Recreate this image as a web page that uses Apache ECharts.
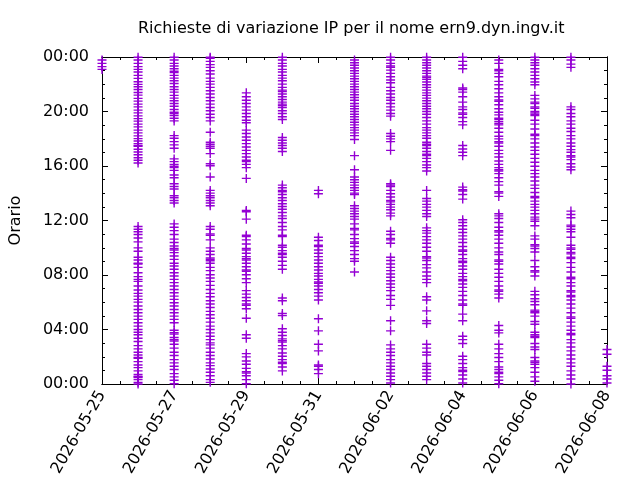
<!DOCTYPE html>
<html>
<head>
<meta charset="utf-8">
<script src="https://cdn.jsdelivr.net/npm/echarts@6/dist/echarts.min.js"></script>
<style>
  html, body { margin: 0; padding: 0; background: #fff; }
  #chart { width: 640px; height: 480px; }
</style>
</head>
<body>
<div id="chart"></div>
<script>
// date of each column (x index = position in this list)
const days = ['2026-05-25', '2026-05-26', '2026-05-27', '2026-05-28', '2026-05-29',
  '2026-05-30', '2026-05-31', '2026-06-01', '2026-06-02', '2026-06-03',
  '2026-06-04', '2026-06-05', '2026-06-06', '2026-06-07', '2026-06-08']
const yLabels = ['00:00', '04:00', '08:00', '12:00', '16:00', '20:00', '00:00']

// hour of the day of each request, one list per day
const h0525 = [23.09, 23.29, 23.53, 23.78]
const h0526 = [23.98, 23.78, 23.53, 23.29, 23.09, 22.90, 22.65, 22.43, 22.18, 21.99, 21.82, 21.62, 21.40,
  21.20, 20.96, 20.76, 20.54, 20.34, 20.10, 19.90, 19.68, 19.48, 19.29, 19.07, 18.87, 18.63, 18.43, 18.21,
  18.01, 17.84, 17.64, 17.45, 17.50, 17.23, 17.03, 16.83, 16.61, 16.42, 16.22,
  11.56, 11.36, 11.17, 10.97, 10.72, 10.43, 9.99, 9.74, 9.30, 9.10, 8.81, 8.86, 8.56, 8.17, 7.88, 7.68,
  7.53, 7.19, 6.90, 6.65, 6.45, 6.21, 6.01, 5.72, 5.47, 5.23, 4.98, 4.74, 4.49, 4.25, 4.00, 3.80, 3.61,
  3.36, 3.12, 2.82, 2.58, 2.33, 2.13, 1.89, 1.94, 1.64, 1.40, 1.20, 0.96, 0.71, 0.52, 0.47, 0.57, 0.32,
  0.12, 0.00]
const h0527 = [23.98, 23.78, 23.53, 23.34, 23.14, 22.95, 22.85, 22.65, 22.45, 22.26, 22.06, 21.82, 21.62,
  21.42, 21.18, 20.98, 20.79, 20.59, 20.39, 20.15, 19.95, 19.85, 19.71, 19.51, 19.31, 18.23, 18.04, 17.79,
  17.55, 17.30, 16.52, 16.32, 16.12, 15.98, 15.88, 15.68, 15.34, 15.14, 14.70, 14.50, 14.31, 13.82, 13.67,
  13.47, 13.28,
  11.75, 11.51, 11.26, 10.97, 10.63, 10.38, 10.13, 9.94, 9.84, 9.64, 9.40, 9.15, 8.86, 8.66, 8.42, 8.17,
  7.93, 7.68, 7.44, 7.19, 6.94, 6.70, 6.45, 6.21, 5.96, 5.72, 5.47, 5.23, 4.98, 4.74, 4.49, 3.95, 3.76,
  3.66, 3.41, 3.26, 3.16, 2.92, 2.63, 2.33, 2.09, 1.79, 1.55, 1.30, 1.06, 0.76, 0.52, 0.27, 0.02]
const h0528 = [23.98, 23.90, 23.68, 23.44, 23.24, 22.99, 22.75, 22.45, 22.21, 22.01, 21.77, 21.52, 21.28,
  21.03, 20.79, 20.54, 20.29, 20.05, 19.80, 19.56, 19.31, 18.48, 17.74, 17.60, 17.45, 17.30, 16.91, 16.17,
  16.02, 15.19, 14.21, 14.01, 13.82, 13.67, 13.47, 13.28, 13.08,
  11.56, 11.36, 11.02, 10.92, 10.58, 9.99, 9.74, 9.50, 9.25, 9.15, 9.05, 8.86, 8.56, 8.32, 8.02, 7.78,
  7.53, 7.24, 6.94, 6.65, 6.40, 6.11, 5.87, 5.62, 5.33, 5.08, 4.83, 4.54, 4.25, 4.00, 3.75, 3.51, 3.26,
  3.02, 2.87, 2.63, 2.33, 2.09, 1.84, 1.55, 1.35, 1.10, 0.86, 0.61, 0.32, 0.12]
const h0529 = [21.37, 21.08, 20.83, 20.59, 20.34, 20.10, 19.85, 19.61, 19.36, 19.17, 18.63, 18.38, 18.13,
  17.89, 17.64, 17.40, 17.15, 16.91, 16.66, 16.42, 16.32, 16.12, 15.88, 15.09, 12.74, 12.64, 12.10,
  10.92, 10.82, 10.58, 10.28, 9.94, 9.84, 9.60, 9.35, 9.20, 9.10, 8.86, 8.61, 8.37, 8.27, 8.02, 7.73,
  7.44, 6.85, 6.60, 6.35, 6.11, 5.87, 5.77, 5.52, 4.83, 3.61, 3.36, 2.23, 1.99, 1.69, 1.45, 1.15, 0.91,
  0.81, 0.61, 0.32, 0.02]
const h0530 = [23.98, 23.78, 23.53, 23.34, 23.09, 22.90, 22.65, 22.45, 22.26, 22.01, 21.77, 21.57, 21.47,
  21.28, 21.08, 20.88, 20.69, 20.54, 20.44, 20.29, 20.05, 19.85, 19.61, 19.41, 18.09, 17.89, 17.69, 17.50,
  17.30, 17.06, 14.60, 14.40, 14.21, 14.11, 13.91, 13.67, 13.47, 13.23, 13.03, 12.83, 12.59, 12.34, 12.15,
  11.85, 11.56, 11.31, 10.92, 10.82, 10.18, 10.04, 9.79, 9.60, 9.50, 9.30, 9.01, 8.71, 8.42, 6.31, 6.11,
  5.18, 5.03, 4.05, 3.80, 3.56, 3.31, 3.17, 3.07, 2.82, 2.58, 2.28, 2.04, 1.79, 1.60, 1.50, 1.25, 0.96]
const h0531 = [14.21, 13.96, 10.77, 10.53, 10.18, 10.08, 9.84, 9.60, 9.35, 9.10, 8.86, 8.61, 8.37, 8.12,
  7.93, 7.68, 7.49, 7.39, 7.19, 6.94, 6.70, 6.45, 6.16, 4.79, 3.90, 2.92, 2.43, 1.40, 1.30, 1.06, 0.76]
const h0601 = [23.78, 23.58, 23.39, 23.19, 22.99, 22.80, 22.60, 22.40, 22.21, 22.01, 21.82, 21.62, 21.42,
  21.23, 21.03, 20.83, 20.59, 20.39, 20.20, 20.00, 19.80, 19.61, 19.41, 19.21, 19.02, 18.82, 18.63, 18.43,
  18.23, 17.94, 16.76, 15.73, 15.19, 14.99, 14.80, 14.60, 14.40, 14.21, 14.01, 13.91, 13.08, 12.88, 12.69,
  12.49, 12.29, 12.10, 11.75, 11.41, 11.31, 10.97, 10.67, 10.43, 10.33, 10.09, 9.79, 9.50, 9.20, 9.01, 8.22]
const h0602 = [23.98, 23.78, 23.53, 23.34, 23.24, 23.04, 22.80, 22.55, 22.31, 22.11, 21.77, 21.52, 21.28,
  21.03, 20.83, 20.59, 20.34, 20.10, 19.85, 19.66, 18.38, 18.18, 17.99, 17.79, 17.15, 14.70, 14.60, 14.50,
  14.21, 13.96, 13.72, 13.47, 13.37, 13.18, 12.98, 12.79, 12.54, 12.34, 11.21, 10.97, 10.68, 10.58, 10.33,
  9.30, 9.06, 8.81, 8.56, 8.32, 8.07, 7.83, 7.58, 7.34, 7.09, 6.85, 6.50, 6.21, 5.77, 4.64, 3.90, 2.87,
  2.58, 2.33, 2.09, 1.79, 1.55, 1.30, 1.06, 0.81, 0.57, 0.32, 0.07]
const h0603 = [23.98, 23.78, 23.58, 23.39, 23.19, 22.99, 22.80, 22.60, 22.50, 22.36, 22.16, 21.96, 21.77,
  21.57, 21.37, 21.18, 20.98, 20.79, 20.59, 20.39, 20.20, 20.00, 19.80, 19.56, 19.31, 19.07, 18.82, 18.63,
  18.43, 18.23, 18.04, 17.74, 17.60, 17.50, 17.30, 17.06, 16.86, 16.76, 16.56, 16.32, 16.07, 15.88, 15.63,
  14.21, 13.62, 13.42, 13.18, 12.98, 12.74, 12.49, 12.29, 11.46, 11.26, 11.07, 10.82, 10.58, 10.33, 10.04,
  9.74, 9.35, 9.25, 9.06, 8.76, 8.52, 8.22, 7.93, 7.68, 7.44, 6.40, 6.16, 5.37, 4.64, 4.44, 2.92, 2.63,
  2.33, 2.13, 1.50, 1.30, 1.06, 0.81, 0.57, 0.32]
const h0604 = [23.98, 23.68, 23.39, 23.14, 21.72, 21.62, 21.42, 21.08, 20.69, 20.34, 20.15, 19.90, 19.80,
  19.56, 19.26, 19.02, 17.50, 17.25, 17.01, 16.76, 14.45, 14.26, 14.16, 13.91, 13.57, 12.05, 11.85, 11.61,
  11.36, 11.12, 10.87, 10.63, 10.38, 10.09, 9.84, 9.74, 9.50, 9.20, 9.01, 8.91, 8.66, 8.42, 8.12, 7.88,
  7.68, 7.58, 7.34, 7.09, 6.80, 6.50, 6.16, 5.87, 5.77, 5.13, 4.64, 3.51, 3.26, 2.97, 2.04, 1.79, 1.50,
  1.20, 1.01, 0.91, 0.66, 0.37, 0.07]
const h0605 = [23.78, 23.53, 23.09, 22.99, 22.80, 22.55, 22.21, 21.96, 21.67, 21.37, 21.08, 20.84, 20.74,
  20.49, 20.20, 19.95, 19.75, 19.51, 19.41, 19.26, 19.12, 19.02, 18.77, 18.48, 18.18, 17.99, 17.79, 17.69,
  17.45, 17.15, 16.91, 16.66, 16.37, 16.12, 15.88, 15.73, 15.63, 15.44, 15.14, 14.85, 14.60, 14.11, 14.01,
  13.77, 12.49, 12.34, 12.15, 11.85, 11.51, 11.26, 11.16, 10.92, 10.63, 10.33, 9.99, 9.69, 9.50, 9.11,
  9.01, 8.81, 8.42, 8.12, 7.83, 7.53, 7.19, 6.90, 6.80, 6.60, 6.31, 4.29, 3.95, 3.75, 2.92, 2.58, 2.23,
  1.94, 1.64, 1.25, 1.06, 0.86, 0.76, 0.52, 0.27, 0.02]
const h0606 = [23.98, 23.78, 23.58, 23.39, 23.14, 22.90, 22.65, 22.40, 22.16, 21.96, 21.18, 20.93, 20.69,
  20.59, 20.34, 20.24, 20.00, 19.90, 19.80, 19.70, 19.36, 19.07, 18.72, 18.33, 18.23, 17.99, 17.69, 17.40,
  17.15, 16.86, 16.56, 16.27, 15.98, 15.68, 15.44, 15.19, 14.90, 14.60, 14.36, 14.06, 13.77, 13.67, 13.42,
  13.18, 12.98, 12.74, 12.49, 12.25, 12.10, 11.95, 11.61, 10.87, 10.63, 10.23, 10.13, 9.94, 9.69, 9.06,
  8.61, 8.32, 8.22, 7.93, 6.80, 6.55, 6.26, 6.06, 5.82, 5.42, 5.32, 5.23, 4.98, 4.59, 4.39, 3.80, 3.61,
  3.51, 3.41, 2.97, 2.72, 2.53, 1.94, 1.69, 1.59, 1.45, 1.20, 0.86, 0.52, 0.20]
const h0607 = [23.98, 23.78, 23.48, 23.24, 20.34, 20.15, 19.85, 19.61, 19.31, 19.07, 18.77, 18.53, 18.23,
  17.99, 17.69, 17.45, 17.20, 17.01, 16.76, 16.66, 16.47, 16.17, 15.93, 15.73, 12.69, 12.44, 12.20, 11.66,
  11.56, 11.36, 11.17, 10.77, 10.18, 9.99, 9.89, 9.65, 9.55, 9.30, 9.20, 8.91, 8.56, 8.22, 7.83, 7.73,
  7.44, 7.19, 6.85, 6.75, 6.50, 6.40, 6.16, 5.87, 5.57, 5.23, 4.93, 4.83, 4.54, 4.25, 3.95, 3.71, 3.61,
  3.26, 3.02, 2.72, 2.43, 2.13, 1.84, 1.55, 1.30, 0.96, 0.66, 0.37, 0.00]
const h0608 = [2.53, 2.18, 1.30, 1.01, 0.61, 0.37, 0.07]

const hoursByDay = [h0525, h0526, h0527, h0528, h0529, h0530, h0531, h0601,
  h0602, h0603, h0604, h0605, h0606, h0607, h0608]

const font = 'DejaVu Sans'
const purple = '#9400D3'
// "+" point mark, a bit over 1px thick so it stays solid after antialiasing
const plus = 'path://M3.8,0h1.4v9h-1.4z M0,3.8h9v1.4h-9z'

const points = []
hoursByDay.forEach((list, i) => {
  list.forEach(h => points.push([i, h]))
})

// one helper per axis: major ticks (long) or minor ticks (short), both inside the frame
function frameAxis (position, min, max, interval, length, label) {
  return {
    type: 'value',
    position: position,
    min: min,
    max: max,
    interval: interval,
    axisLine: { onZero: false, lineStyle: { color: '#000', width: 1 } },
    axisTick: { inside: true, length: length, lineStyle: { color: '#000' } },
    axisLabel: label || { show: false },
    splitLine: { show: false }
  }
}

const textBase = { fontFamily: font, fontSize: 16, color: '#000' }

const xMain = frameAxis('bottom', 0, 14, 2, 6, {
  ...textBase,
  rotate: 60,
  margin: 8,
  formatter: v => days[v]
})
const yMain = frameAxis('left', 0, 24, 4, 6, {
  ...textBase,
  margin: 13,
  formatter: v => yLabels[v / 4]
})
yMain.name = 'Orario'
yMain.nameLocation = 'middle'
yMain.nameGap = 78
yMain.nameTextStyle = textBase

const chart = echarts.init(document.getElementById('chart'))

chart.setOption({
  animation: false,
  backgroundColor: '#fff',
  title: {
    text: 'Richieste di variazione IP per il nome ern9.dyn.ingv.it',
    left: 133,
    top: 16,
    textStyle: { ...textBase, fontWeight: 'normal' }
  },
  grid: { left: 102, right: 33, top: 57, bottom: 96 },
  xAxis: [
    xMain,
    frameAxis('top', 0, 14, 2, 6),
    frameAxis('bottom', 0, 14, 0.5, 3),
    frameAxis('top', 0, 14, 0.5, 3)
  ],
  yAxis: [
    yMain,
    frameAxis('right', 0, 24, 4, 6),
    frameAxis('left', 0, 24, 1, 3),
    frameAxis('right', 0, 24, 1, 3)
  ],
  series: [{
    type: 'scatter',
    xAxisIndex: 0,
    yAxisIndex: 0,
    symbol: plus,
    symbolSize: 9,
    itemStyle: { color: purple, opacity: 1 },
    data: points
  }]
})
</script>
</body>
</html>
